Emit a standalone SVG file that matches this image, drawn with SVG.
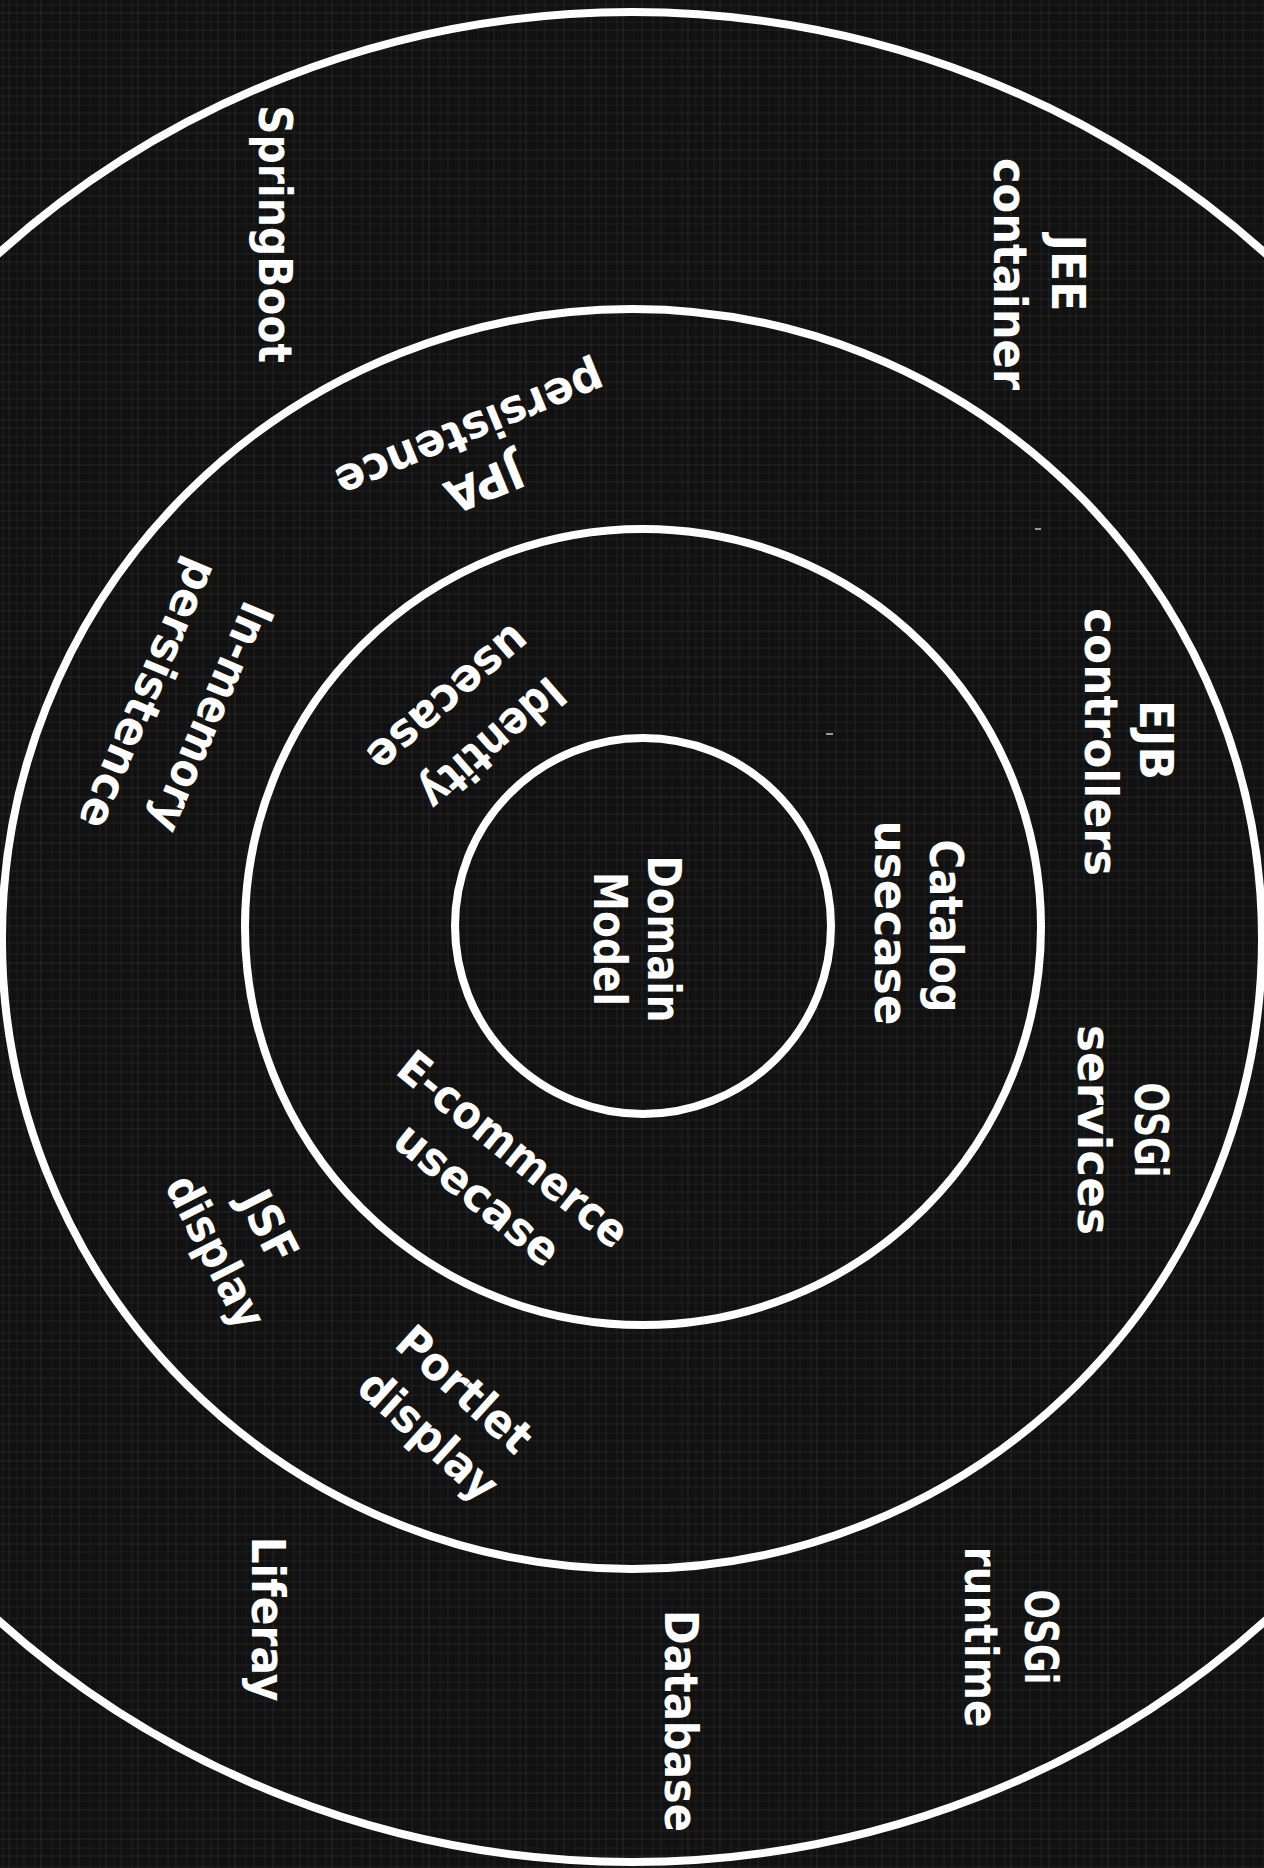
<svg xmlns="http://www.w3.org/2000/svg" width="1264" height="1868" viewBox="0 0 1264 1868">
<defs>
<pattern id="tex" width="97" height="83" patternUnits="userSpaceOnUse">
<rect width="97" height="83" fill="#111111"/>
<g stroke="#ffffff" stroke-width="1">
<line x1="3" y1="0" x2="3" y2="83" stroke-opacity="0.05"/>
<line x1="9" y1="0" x2="9" y2="83" stroke-opacity="0.08"/>
<line x1="17" y1="0" x2="17" y2="83" stroke-opacity="0.04"/>
<line x1="24" y1="0" x2="24" y2="83" stroke-opacity="0.07"/>
<line x1="35" y1="0" x2="35" y2="83" stroke-opacity="0.05"/>
<line x1="41" y1="0" x2="41" y2="83" stroke-opacity="0.09"/>
<line x1="52" y1="0" x2="52" y2="83" stroke-opacity="0.04"/>
<line x1="60" y1="0" x2="60" y2="83" stroke-opacity="0.07"/>
<line x1="71" y1="0" x2="71" y2="83" stroke-opacity="0.05"/>
<line x1="79" y1="0" x2="79" y2="83" stroke-opacity="0.08"/>
<line x1="90" y1="0" x2="90" y2="83" stroke-opacity="0.04"/>
<line x1="0" y1="5" x2="97" y2="5" stroke-opacity="0.05"/>
<line x1="0" y1="13" x2="97" y2="13" stroke-opacity="0.08"/>
<line x1="0" y1="22" x2="97" y2="22" stroke-opacity="0.04"/>
<line x1="0" y1="30" x2="97" y2="30" stroke-opacity="0.07"/>
<line x1="0" y1="41" x2="97" y2="41" stroke-opacity="0.05"/>
<line x1="0" y1="50" x2="97" y2="50" stroke-opacity="0.08"/>
<line x1="0" y1="58" x2="97" y2="58" stroke-opacity="0.04"/>
<line x1="0" y1="67" x2="97" y2="67" stroke-opacity="0.07"/>
<line x1="0" y1="76" x2="97" y2="76" stroke-opacity="0.05"/>
</g>
</pattern>
</defs>
<style>
.ring{fill:none;stroke:#ffffff;stroke-width:8}
.lbl{font-family:"DejaVu Sans","Liberation Sans",sans-serif;font-weight:bold;font-size:46px;fill:#ffffff;text-anchor:middle}
.dash{stroke:#9a9a9a;stroke-width:2}
</style>
<rect id="background" x="0" y="0" width="1264" height="1868" fill="url(#tex)"/>
<g id="rings">
<ellipse id="ring-outer" class="ring" cx="632" cy="937" rx="940" ry="925"/>
<circle id="ring-third" class="ring" cx="632" cy="939" r="630"/>
<circle id="ring-second" class="ring" cx="643" cy="927" r="398"/>
<circle id="ring-inner" class="ring" cx="643" cy="926" r="188"/>
</g>
<g id="marks">
<line class="dash" x1="1035" y1="529" x2="1041" y2="529"/>
<line class="dash" x1="826" y1="734" x2="833" y2="734"/>
</g>
<g id="connectors"></g>
<g id="node-springboot"><text class="lbl" transform="translate(274,234) rotate(90)" y="15" textLength="258" lengthAdjust="spacingAndGlyphs">SpringBoot</text></g>
<g id="node-jee-container">
<text class="lbl" transform="translate(1067,273) rotate(90)" y="15" textLength="77" lengthAdjust="spacingAndGlyphs">JEE</text>
<text class="lbl" transform="translate(1009,274) rotate(90)" y="15" textLength="232" lengthAdjust="spacingAndGlyphs">container</text>
</g>
<g id="node-jpa-persistence">
<text class="lbl" transform="translate(484,483) rotate(157.7)" y="15" textLength="80" lengthAdjust="spacingAndGlyphs">JPA</text>
<text class="lbl" transform="translate(470,430) rotate(157.7)" y="15" textLength="286" lengthAdjust="spacingAndGlyphs">persistence</text>
</g>
<g id="node-identity-usecase">
<text class="lbl" transform="translate(492,743) rotate(139)" y="15" textLength="175" lengthAdjust="spacingAndGlyphs">Identity</text>
<text class="lbl" transform="translate(448,698) rotate(139)" y="15" textLength="198" lengthAdjust="spacingAndGlyphs">usecase</text>
</g>
<g id="node-inmemory-persistence">
<text class="lbl" transform="translate(211,717) rotate(113)" y="15" textLength="245" lengthAdjust="spacingAndGlyphs">In-memory</text>
<text class="lbl" transform="translate(148,694) rotate(113)" y="15" textLength="288" lengthAdjust="spacingAndGlyphs">persistence</text>
</g>
<g id="node-ejb-controllers">
<text class="lbl" transform="translate(1155,740) rotate(90)" y="15" textLength="80" lengthAdjust="spacingAndGlyphs">EJB</text>
<text class="lbl" transform="translate(1100,742) rotate(90)" y="15" textLength="268" lengthAdjust="spacingAndGlyphs">controllers</text>
</g>
<g id="node-catalog-usecase">
<text class="lbl" transform="translate(945,926) rotate(90)" y="15" textLength="173" lengthAdjust="spacingAndGlyphs">Catalog</text>
<text class="lbl" transform="translate(890,923) rotate(90)" y="15" textLength="205" lengthAdjust="spacingAndGlyphs">usecase</text>
</g>
<g id="node-domain-model">
<text class="lbl" transform="translate(663,939) rotate(90)" y="15" textLength="167" lengthAdjust="spacingAndGlyphs">Domain</text>
<text class="lbl" transform="translate(609,939) rotate(90)" y="15" textLength="134" lengthAdjust="spacingAndGlyphs">Model</text>
</g>
<g id="node-osgi-services">
<text class="lbl" transform="translate(1150,1130) rotate(90)" y="15" textLength="95" lengthAdjust="spacingAndGlyphs">OSGi</text>
<text class="lbl" transform="translate(1093,1130) rotate(90)" y="15" textLength="210" lengthAdjust="spacingAndGlyphs">services</text>
</g>
<g id="node-ecommerce-usecase">
<text class="lbl" transform="translate(513,1150) rotate(39)" y="15" textLength="282" lengthAdjust="spacingAndGlyphs">E-commerce</text>
<text class="lbl" transform="translate(477,1195) rotate(39)" y="15" textLength="198" lengthAdjust="spacingAndGlyphs">usecase</text>
</g>
<g id="node-jsf-display">
<text class="lbl" transform="translate(268,1227) rotate(63)" y="15" textLength="75" lengthAdjust="spacingAndGlyphs">JSF</text>
<text class="lbl" transform="translate(215,1252) rotate(63)" y="15" textLength="165" lengthAdjust="spacingAndGlyphs">display</text>
</g>
<g id="node-portlet-display">
<text class="lbl" transform="translate(464,1390) rotate(42)" y="15" textLength="165" lengthAdjust="spacingAndGlyphs">Portlet</text>
<text class="lbl" transform="translate(428,1436) rotate(42)" y="15" textLength="170" lengthAdjust="spacingAndGlyphs">display</text>
</g>
<g id="node-liferay"><text class="lbl" transform="translate(267,1619) rotate(90)" y="15" textLength="165" lengthAdjust="spacingAndGlyphs">Liferay</text></g>
<g id="node-database"><text class="lbl" transform="translate(680,1721) rotate(90)" y="15" textLength="222" lengthAdjust="spacingAndGlyphs">Database</text></g>
<g id="node-osgi-runtime">
<text class="lbl" transform="translate(1040,1637) rotate(90)" y="15" textLength="95" lengthAdjust="spacingAndGlyphs">OSGi</text>
<text class="lbl" transform="translate(980,1637) rotate(90)" y="15" textLength="181" lengthAdjust="spacingAndGlyphs">runtime</text>
</g>
</svg>
